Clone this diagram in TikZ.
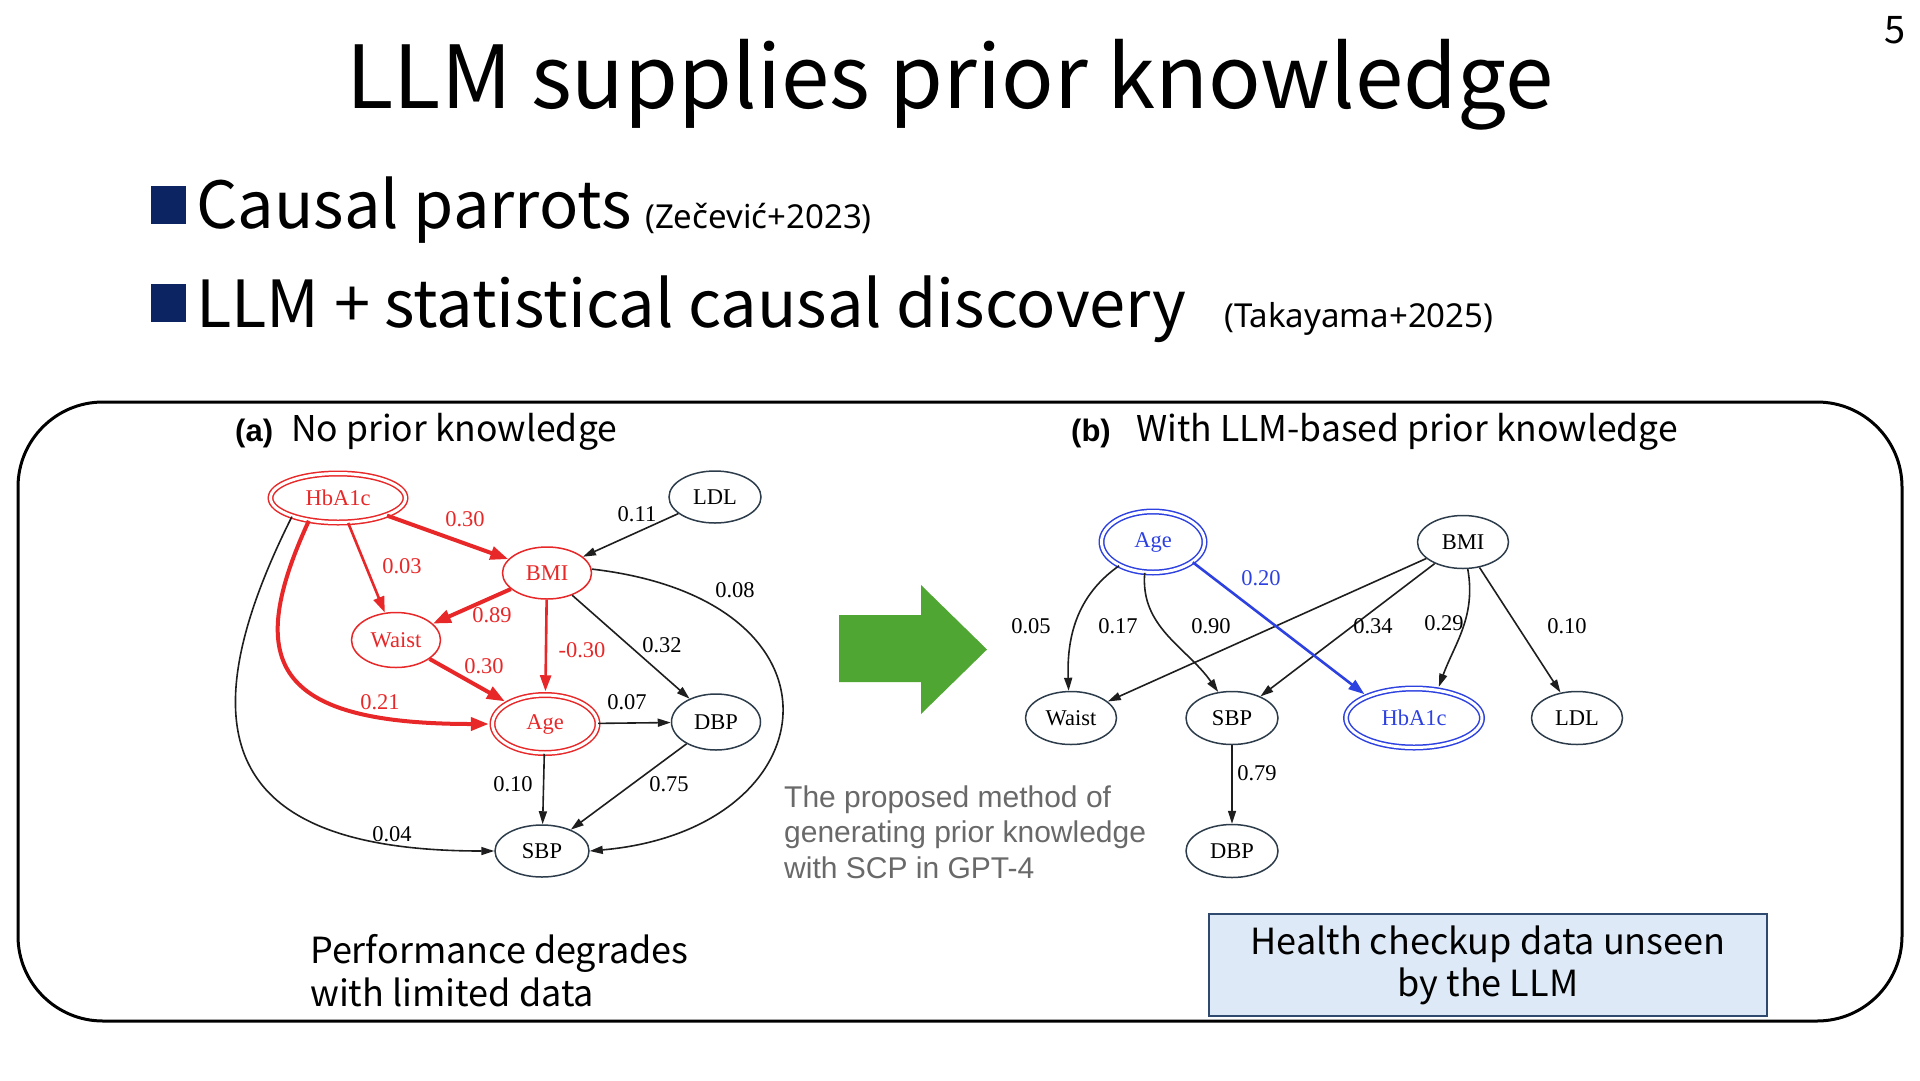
\documentclass[tikz,border=0pt]{standalone}
\usepackage{fontspec}
\setmainfont{Noto Sans CJK JP}
\newfontfamily\serifg{Liberation Serif}
\newfontfamily\arialfam{Liberation Sans}
\newfontfamily\citefam{Noto Sans}
\usetikzlibrary{shapes.geometric,arrows.meta}
\definecolor{gred}{RGB}{232,40,40}
\definecolor{gblue}{RGB}{45,65,225}
\definecolor{ndark}{RGB}{45,60,75}
\definecolor{edark}{RGB}{30,30,30}
\definecolor{ggreen}{RGB}{80,166,50}
\definecolor{navy}{RGB}{12,36,97}
\definecolor{boxfill}{RGB}{221,233,246}
\definecolor{boxline}{RGB}{47,74,110}
\definecolor{captgray}{RGB}{105,105,105}
\newcommand{\gfont}{\serifg\fontsize{22.5}{24}\selectfont}
\begin{document}
\begin{tikzpicture}[x=1pt,y=-1pt,
  gnode/.style={ellipse, draw=ndark, line width=1.5pt, inner sep=0pt, font=\gfont, text=black},
  rnode/.style={gnode, draw=gred, text=gred},
  rdbl/.style={rnode, double=white, double distance=3pt},
  bdbl/.style={gnode, draw=gblue, text=gblue, double=white, double distance=3pt},
  elab/.style={font=\gfont, inner sep=1pt},
  redthick/.style={draw=gred, line width=4pt, -{Triangle[length=18pt,width=13pt]}},
  redthin/.style={draw=gred, line width=2.6pt, -{Triangle[length=16pt,width=11pt]}},
  blk/.style={draw=edark, line width=1.6pt, -{Triangle[length=13pt,width=8pt]}},
  bluee/.style={draw=gblue, line width=2.6pt, -{Triangle[length=16pt,width=11pt]}},
  bsq/.style={fill=navy, inner sep=0pt, minimum width=35pt, minimum height=38pt},
  cite/.style={anchor=base west, inner sep=0pt, font=\citefam\fontsize{33}{35}\selectfont},
  bul/.style={anchor=base west, inner sep=0pt, font=\fontsize{65}{70}\selectfont},
  head/.style={anchor=base west, inner sep=0pt, font=\fontsize{35.5}{38}\selectfont},
  plabel/.style={anchor=base west, inner sep=0pt, font=\arialfam\bfseries\fontsize{31}{33}\selectfont},
]
\useasboundingbox (0,0) rectangle (1920,1080);

% page number and title
\node[anchor=base, font=\fontsize{38}{40}\selectfont] (pnum) at (1895,43) {5};
\node[anchor=base, font=\fontsize{87}{92}\selectfont] (title) at (950,108) {LLM supplies prior knowledge};

% bullets
\node[bsq] (sq1) at (168.5,205) {};
\node[bul] (b1) at (196,228) {Causal parrots};
\node[cite] (c1) at (645,228) {(Zečević+2023)};
\node[bsq] (sq2) at (168.5,302.5) {};
\node[bul] (b2) at (196,327) {LLM + statistical causal discovery};
\node[cite] (c2) at (1224,327) {(Takayama+2025)};

% frame
\draw[line width=3pt, rounded corners=85pt] (18,402) rectangle (1902,1021);

% panel headings
\node[plabel] (pa) at (235,441) {(a)};
\node[head] (ha) at (291,441) {No prior knowledge};
\node[plabel] (pb) at (1071,441) {(b)};
\node[head] (hb) at (1136,441) {With LLM-based prior knowledge};

% ---- graph (a) ----
\node[rdbl, minimum width=135pt, minimum height=49pt] (aH) at (338,498) {HbA1c};
\node[gnode, minimum width=92pt, minimum height=52pt] (aL) at (715,497) {LDL};
\node[rnode, minimum width=89pt, minimum height=52pt] (aB) at (547,573) {BMI};
\node[rnode, minimum width=89pt, minimum height=55pt] (aW) at (396,640) {Waist};
\node[rdbl, minimum width=105pt, minimum height=58pt] (aA) at (545,724) {Age};
\node[gnode, minimum width=89pt, minimum height=56pt] (aD) at (716,722) {DBP};
\node[gnode, minimum width=94pt, minimum height=52pt] (aS) at (542,851) {SBP};

\draw[redthick] (aH) -- (aB);
\draw[redthin] (aH) -- (aW);
\draw[redthick] (aB) -- (aW);
\draw[redthin, shorten >=3pt] (aB) -- (aA);
\draw[redthick, shorten >=3pt] (aW) -- (aA);
\draw[redthick, shorten >=3pt] (aH.218) .. controls (245,660) and (270,724) .. (aA.west);
\draw[blk] (aL) -- (aB);
\draw[blk] (aB) -- (aD);
\draw[blk] (aB.5) .. controls (860,600) and (830,830) .. (aS.east);
\draw[blk] (aA) -- (aD);
\draw[blk] (aA) -- (aS);
\draw[blk] (aD) -- (aS);
\draw[blk] (aH.202) .. controls (180,740) and (230,851) .. (aS.west);

\node[elab, text=gred] (l1) at (465,519) {0.30};
\node[elab, text=gred] (l2) at (402,566) {0.03};
\node[elab, text=gred] (l3) at (492,615) {0.89};
\node[elab, text=gred] (l4) at (582,650) {-0.30};
\node[elab, text=gred] (l5) at (484,666) {0.30};
\node[elab, text=gred] (l6) at (380,702) {0.21};
\node[elab] (l7) at (637,514) {0.11};
\node[elab] (l8) at (735,590) {0.08};
\node[elab] (l9) at (662,645) {0.32};
\node[elab] (l10) at (627,702) {0.07};
\node[elab] (l11) at (513,784) {0.10};
\node[elab] (l12) at (669,784) {0.75};
\node[elab] (l13) at (392,834) {0.04};

% green arrow
\fill[ggreen] (839,615) -- (921,615) -- (921,585) -- (987,649.5) -- (921,714) -- (921,682) -- (839,682) -- cycle;

% caption
\node[anchor=west, align=left, inner sep=0pt, text=captgray, font=\arialfam\fontsize{30}{35.5}\selectfont] (cap) at (784,832)
  {The proposed method of\\generating prior knowledge\\with SCP in GPT-4};

% ---- graph (b) ----
\node[bdbl, minimum width=103pt, minimum height=61pt] (bA) at (1153,542) {Age};
\node[gnode, minimum width=91pt, minimum height=53pt] (bB) at (1463,542) {BMI};
\node[gnode, minimum width=91pt, minimum height=53pt] (bW) at (1071,718) {Waist};
\node[gnode, minimum width=92pt, minimum height=53pt] (bS) at (1232,718) {SBP};
\node[bdbl, minimum width=136pt, minimum height=59pt] (bH) at (1414,718) {HbA1c};
\node[gnode, minimum width=91pt, minimum height=53pt] (bL) at (1577,718) {LDL};
\node[gnode, minimum width=92pt, minimum height=53pt] (bD) at (1232,851) {DBP};

\draw[blk] (bA.215) to[out=215, in=92] (bW.95);
\draw[blk] (bA.255) to[out=265, in=125] (bS.118);
\draw[blk] (bB) -- (bW);
\draw[blk] (bB) -- (bS);
\draw[bluee, shorten >=3pt] (bA.-27) -- (bH.155);
\draw[blk, shorten >=3pt] (bB.280) to[out=-80, in=70] (bH.50);
\draw[blk] (bB) -- (bL);
\draw[blk] (bS) -- (bD);

\node[elab, text=gblue] (m1) at (1261,578) {0.20};
\node[elab] (m2) at (1031,626) {0.05};
\node[elab] (m3) at (1118,626) {0.17};
\node[elab] (m4) at (1211,626) {0.90};
\node[elab] (m5) at (1373,626) {0.34};
\node[elab] (m6) at (1444,623) {0.29};
\node[elab] (m7) at (1567,626) {0.10};
\node[elab] (m8) at (1257,773) {0.79};

% bottom texts
\node[anchor=west, align=left, inner sep=0pt, font=\fontsize{36}{43}\selectfont] (perf) at (310,971)
  {Performance degrades\\with limited data};
\node[draw=boxline, line width=2pt, fill=boxfill, minimum width=558pt, minimum height=102pt, align=center, inner sep=0pt, font=\fontsize{36}{42}\selectfont] (hbox) at (1488,965)
  {Health checkup data unseen\\by the LLM};
\end{tikzpicture}
\end{document}
